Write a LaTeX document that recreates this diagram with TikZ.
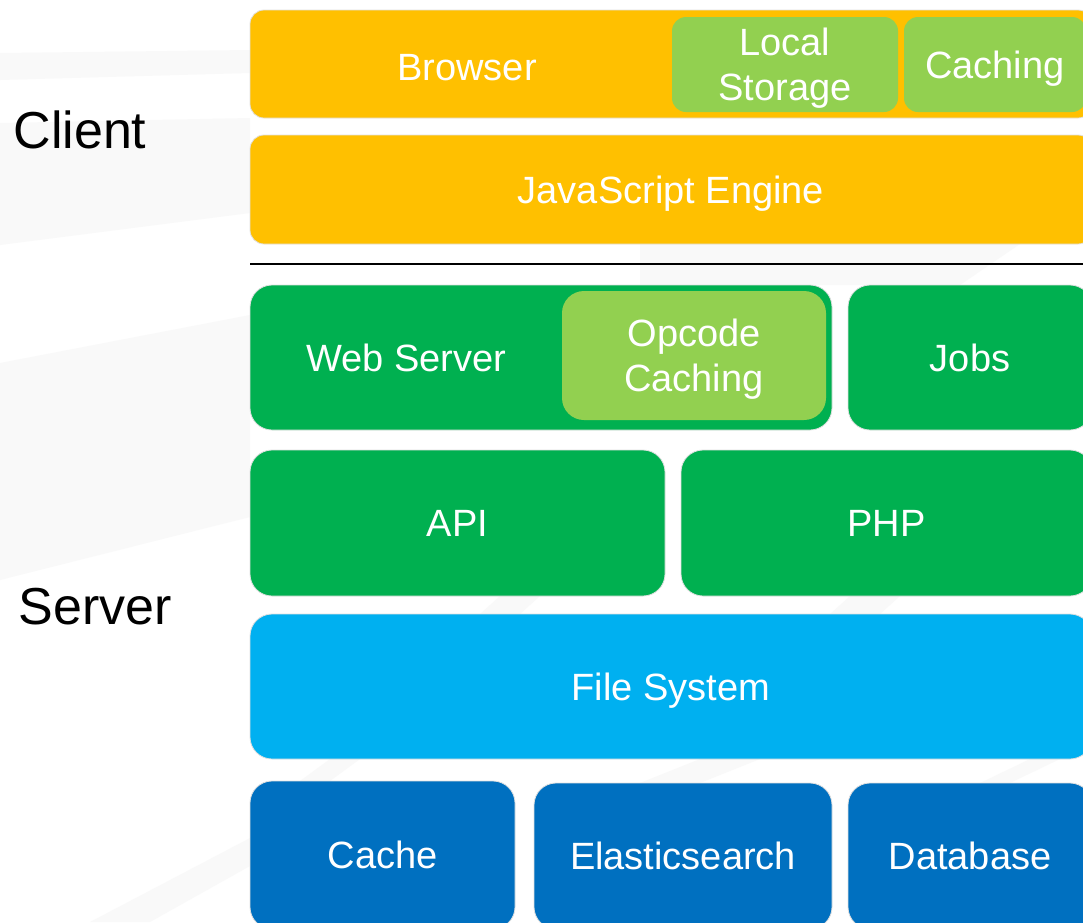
\documentclass[tikz,border=0pt]{standalone}
\usepackage{fontspec}
\setmainfont{Liberation Sans}
\usetikzlibrary{positioning}

\definecolor{amber}{HTML}{FFC000}
\definecolor{lime}{HTML}{92D050}
\definecolor{leaf}{HTML}{00B050}
\definecolor{sky}{HTML}{00B0F0}
\definecolor{ocean}{HTML}{0070C0}

\begin{document}
\begin{tikzpicture}[x=1pt,y=-1pt,
      Layer/.style={rectangle, rounded corners=22pt, draw=black!12, line width=0.8pt,
        text=white, inner sep=0pt, align=center, text depth=0pt,
        font=\fontsize{38}{45}\selectfont},
      Thin/.style={Layer, rounded corners=14pt},
      Caption/.style={text=white, text depth=0pt, font=\fontsize{38}{45}\selectfont},
      Side/.style={font=\fontsize{52}{60}\selectfont, text=black},
      Streak/.style={fill=black!2.5},
      ]
      \useasboundingbox (0,0) rectangle (1083,922);
      \clip (0,0) rectangle (1083,922);
      \fill[white] (0,0) rectangle (1083,922);

      % faint streaks in the background
      \fill[Streak] (0,53) -- (250,50) -- (250,73) -- (0,80) -- cycle;
      \fill[Streak] (0,123) -- (250,118) -- (250,213) -- (0,245) -- cycle;
      \fill[Streak] (0,363) -- (250,315) -- (250,517) -- (0,580) -- cycle;
      \fill[Streak] (640,244) -- (1020,244) -- (960,285) -- (640,285) -- cycle;
      \fill[Streak] (90,922) -- (250,838) -- (250,866) -- (150,922) -- cycle;
      \fill[Streak] (480,614) -- (500,596) -- (540,596) -- (520,614) -- cycle;
      \fill[Streak] (830,614) -- (850,596) -- (900,596) -- (880,614) -- cycle;
      \fill[Streak] (300,781) -- (330,759) -- (360,759) -- (330,781) -- cycle;
      \fill[Streak] (640,783) -- (700,759) -- (760,759) -- (700,783) -- cycle;
      \fill[Streak] (980,783) -- (1030,759) -- (1060,759) -- (1010,783) -- cycle;

      % client side
      \node[Thin, fill=amber, minimum width=842, minimum height=108] (browser) at (671,64) {};
      \node[Caption] (browserlbl) at (467,67) {Browser};
      \node[Thin, fill=lime, draw=none, minimum width=226, minimum height=95] (storage) at (785,64.5) {Local\\Storage};
      \node[Thin, fill=lime, draw=none, minimum width=182, minimum height=95] (caching) at (995,64.5) {Caching};
      \node[Thin, fill=amber, minimum width=842, minimum height=109] (engine) at (671,189.5) {JavaScript Engine};

      \coordinate (splitL) at (250,264);
      \coordinate (splitR) at (1083,264);
      \draw[line width=1.2pt] (splitL) -- (splitR);

      % server side
      \node[Layer, fill=leaf, minimum width=582, minimum height=145] (web) at (541,357.5) {};
      \node[Caption] (weblbl) at (406,358) {Web Server};
      \node[Layer, fill=lime, draw=none, minimum width=264, minimum height=129] (opcode) at (694,355.5) {Opcode\\Caching};
      \node[Layer, fill=leaf, minimum width=244, minimum height=145] (jobs) at (970,357.5) {Jobs};

      \node[Layer, fill=leaf, minimum width=415, minimum height=146] (api) at (457.5,523) {API};
      \node[Layer, fill=leaf, minimum width=411, minimum height=146] (php) at (886.5,523) {PHP};

      \node[Layer, fill=sky, minimum width=842, minimum height=145] (files) at (671,686.5) {File System};

      \node[Layer, fill=ocean, minimum width=265, minimum height=148] (cache) at (382.5,855) {Cache};
      \node[Layer, fill=ocean, minimum width=298, minimum height=146] (elastic) at (683,856) {Elasticsearch};
      \node[Layer, fill=ocean, minimum width=244, minimum height=146] (database) at (970,856) {Database};

      \node[Side] (client) at (80,130) {Client};
      \node[Side] (server) at (95,607) {Server};
    \end{tikzpicture}
\end{document}
